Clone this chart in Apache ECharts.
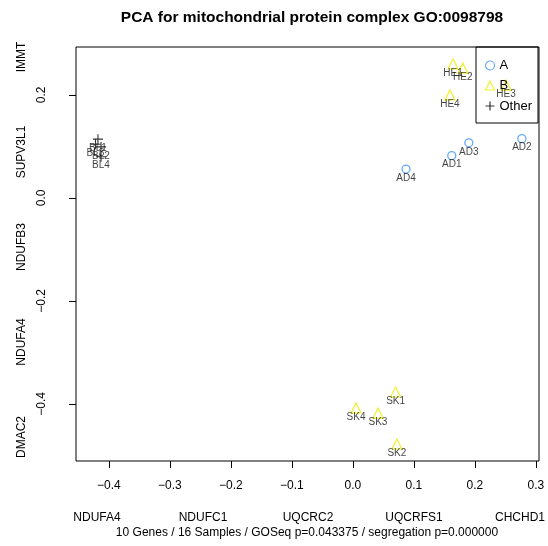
<!DOCTYPE html>
<html>
<head>
<meta charset="utf-8">
<script src="https://cdn.jsdelivr.net/npm/echarts@6/dist/echarts.min.js"></script>
<style>html,body{margin:0;padding:0;background:#fff;}#c{width:548px;height:546px;}</style>
</head>
<body>
<div id="c"></div>
<script>
// ---- data ----
const namesA = ['AD1','AD2','AD3','AD4'];
const xA = [0.162, 0.277, 0.190, 0.087];
const yA = [0.082, 0.115, 0.107, 0.056];

const namesB = ['HE1','HE2','HE3','HE4','SK1','SK2','SK3','SK4'];
const xB = [0.164, 0.180, 0.251, 0.159, 0.070, 0.072, 0.041, 0.005];
const yB = [0.260, 0.252, 0.219, 0.200, -0.377, -0.478, -0.418, -0.408];

const namesO = ['BL1','BL2','BL3','BL4'];
const xO = [-0.418, -0.413, -0.422, -0.413];
const yO = [0.114, 0.099, 0.104, 0.080];

const xTicks = [-0.4, -0.3, -0.2, -0.1, 0.0, 0.1, 0.2, 0.3];
const yTicks = [-0.4, -0.2, 0.0, 0.2];
const xGeneLabels = ['NDUFA4','NDUFC1','UQCRC2','UQCRFS1','CHCHD1'];
const yGeneLabels = ['IMMT','SUPV3L1','NDUFB3','NDUFA4','DMAC2'];
const titleText = 'PCA for mitochondrial protein complex GO:0098798';
const subText = '10 Genes / 16 Samples / GOSeq p=0.043375 / segregation p=0.000000';

const FONT = '"Liberation Sans", Arial, Helvetica, sans-serif';
const fmt = v => (v < 0 ? '\u2212' : '') + Math.abs(v).toFixed(1);
const pts = (xs, ys, ns) => xs.map((x, i) => ({ value: [x, ys[i]], name: ns[i] }));

const labelCfg = { show: true, position: 'inside', offset: [0, 9], formatter: '{b}', fontSize: 10, color: '#111', fontFamily: FONT };

const chart = echarts.init(document.getElementById('c'), null, { renderer: 'canvas' });

const graphics = [];
const xGenePos = [97, 203, 308, 414, 520];
xGeneLabels.forEach((t, i) => graphics.push({ type: 'text', x: xGenePos[i], y: 518,
  style: { text: t, fontSize: 12, fontFamily: FONT, fill: '#000', align: 'center', verticalAlign: 'middle' } }));
const yGenePos = [57, 152, 247, 342, 437];
yGeneLabels.forEach((t, i) => graphics.push({ type: 'text', x: 22, y: yGenePos[i], rotation: Math.PI / 2,
  style: { text: t, fontSize: 12, fontFamily: FONT, fill: '#000', align: 'center', verticalAlign: 'middle' } }));
graphics.push({ type: 'text', x: 307, y: 533,
  style: { text: subText, fontSize: 12, fontFamily: FONT, fill: '#000', align: 'center', verticalAlign: 'middle' } });

chart.setOption({
  animation: false,
  backgroundColor: '#fff',
  title: { text: titleText, left: 307, top: 5, textAlign: 'center',
    textStyle: { fontSize: 15.5, fontWeight: 'bold', fontFamily: FONT, color: '#000' } },
  grid: { left: 76, right: 9, top: 47, bottom: 85, show: true, borderColor: '#000', borderWidth: 1, backgroundColor: 'transparent' },
  xAxis: { type: 'value', min: -0.454, max: 0.305,
    axisLine: { show: false, onZero: false }, splitLine: { show: false },
    axisTick: { show: true, length: 7, customValues: xTicks, lineStyle: { color: '#000' } },
    axisLabel: { customValues: xTicks, formatter: fmt, margin: 19, fontSize: 12, color: '#000', fontFamily: FONT } },
  yAxis: { type: 'value', min: -0.511, max: 0.293,
    axisLine: { show: false, onZero: false }, splitLine: { show: false },
    axisTick: { show: true, length: 7, customValues: yTicks, lineStyle: { color: '#000' } },
    axisLabel: { customValues: yTicks, formatter: fmt, rotate: 90, margin: 28, fontSize: 12, color: '#000', fontFamily: FONT } },
  legend: { orient: 'vertical', left: 476, top: 47, data: ['A', 'B', 'Other'],
    borderColor: '#000', borderWidth: 1, borderRadius: 0, padding: [12, 6, 10, 7], itemGap: 7,
    itemWidth: 9, itemHeight: 9, itemStyle: { borderWidth: 1.2 },
    textStyle: { fontSize: 13, fontFamily: FONT, color: '#000' } },
  series: [
    { name: 'A', type: 'scatter', symbol: 'circle', symbolSize: 8,
      itemStyle: { color: 'rgba(0,0,0,0)', borderColor: '#3f94ff', borderWidth: 1.3 },
      label: labelCfg, data: pts(xA, yA, namesA) },
    { name: 'B', type: 'scatter', symbol: 'triangle', symbolSize: 10,
      itemStyle: { color: 'rgba(0,0,0,0)', borderColor: '#eeee00', borderWidth: 1.2 },
      label: labelCfg, data: pts(xB, yB, namesB) },
    { name: 'Other', type: 'scatter', symbol: 'path://M5,0L5,10M0,5L10,5', symbolSize: 10,
      itemStyle: { color: 'none', borderColor: '#000', borderWidth: 1.1 },
      label: labelCfg, data: pts(xO, yO, namesO) }
  ],
  graphic: graphics
});
</script>
</body>
</html>
